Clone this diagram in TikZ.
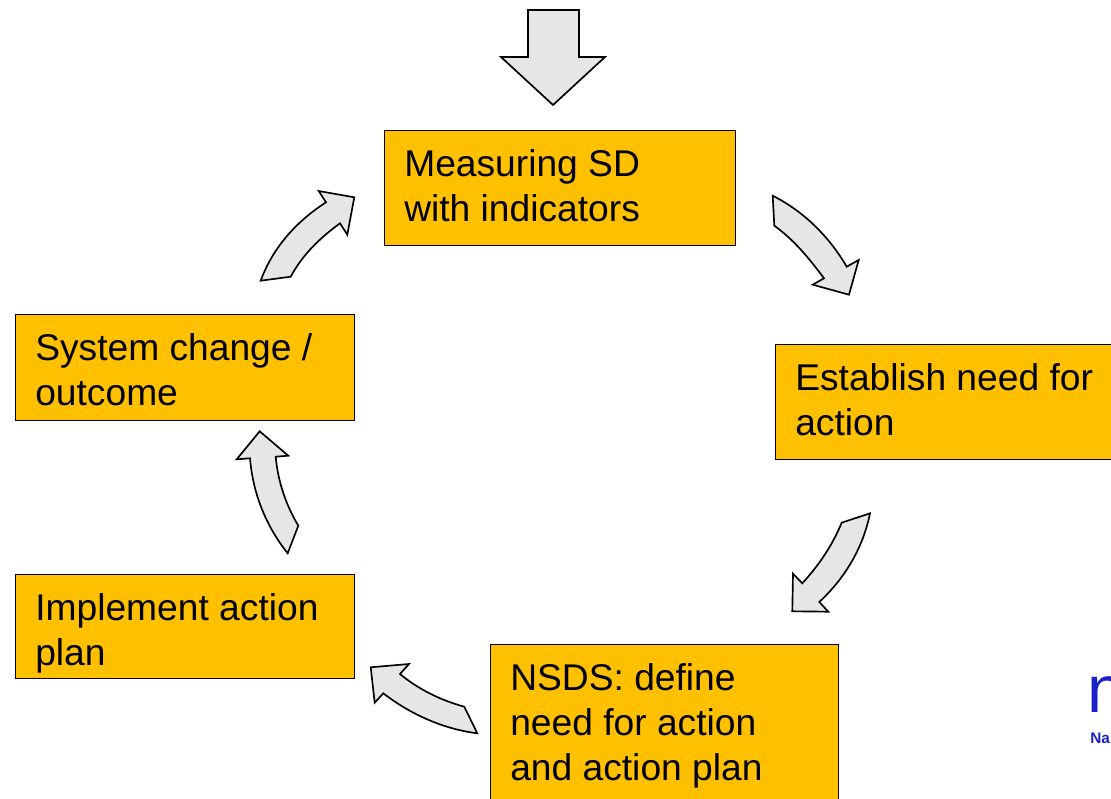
\documentclass[tikz,border=0pt]{standalone}
\usepackage{fontspec}
\setmainfont{Liberation Sans}
\definecolor{boxgold}{HTML}{FFC000}
\definecolor{arrowgrey}{HTML}{E6E6E6}
\definecolor{logoblue}{HTML}{1A1FC8}
\tikzset{
  every picture/.style={x=0.75pt,y=-0.75pt},
  stagebox/.style={draw=black,line width=0.75pt,fill=boxgold},
  stagetext/.style={anchor=north west,inner sep=0pt,align=left,font=\fontsize{27.9}{33.7}\selectfont,text=black},
  blockarrow/.style={draw=black,line width=1.25pt,fill=arrowgrey,line join=miter}
}
\begin{document}
\begin{tikzpicture}
\useasboundingbox (0,0) rectangle (1111,799);
\begin{scope}
\clip (0,0) rectangle (1111,799);
% boxes
\draw[stagebox] (384.5,130.5) rectangle (735,245);
\draw[stagebox] (775,344.5) rectangle (1125,459);
\draw[stagebox] (490,644.5) rectangle (838,815);
\draw[stagebox] (15.5,314.5) rectangle (354,420);
\draw[stagebox] (15.5,574.5) rectangle (354,678);
% texts
\node[stagetext] (measure) at (404,149.5) {Measuring SD\\with indicators};
\node[stagetext] (establish) at (795,363.5) {Establish need for\\action};
\node[stagetext] (nsds) at (510,663) {NSDS: define\\need for action\\and action plan};
\node[stagetext] (system) at (35,333) {System change /\\outcome};
\node[stagetext] (implement) at (35,593) {Implement action\\plan};
% top arrow
\draw[blockarrow] (528,10) -- (579,10) -- (579,57) -- (605,57) -- (553,105) -- (501,57) -- (528,57) -- cycle;
% upper left
\draw[blockarrow] (260.7,280.7) -- (290.7,276.7) .. controls (303,254) and (320,238) .. (340,223.3)
  -- (347.3,234.7) -- (354.3,197.3) -- (318.7,191) -- (326,202.3)
  .. controls (297,221) and (273,247) .. cycle;
% upper right
\draw[blockarrow] (772.7,195.7) .. controls (805,212) and (830,238) .. (846.7,266.7)
  -- (858.7,260) -- (849,294.7) -- (812.7,284.7) -- (824,278.3)
  .. controls (808,257) and (794,240) .. (774.3,225.7) -- cycle;
% lower right
\draw[blockarrow] (870,513.3) -- (841.7,522.7) .. controls (832,546) and (819,565) .. (802.3,583.3)
  -- (793,573.7) -- (792.3,611.3) -- (828.3,611.7) -- (819.3,602)
  .. controls (845,578) and (863,548) .. cycle;
% lower middle
\draw[blockarrow] (477.3,733.3) -- (464.3,706.7) .. controls (440,700) and (418,689) .. (400,674)
  -- (409,664) -- (370.7,667.3) -- (374.7,702.7) -- (383.3,693.3)
  .. controls (410,714) and (443,729) .. cycle;
% left
\draw[blockarrow] (287.7,553.3) -- (298.3,525.7) .. controls (286,505) and (278,482) .. (275.7,456.7)
  -- (288.3,455.7) -- (259.7,431.3) -- (236.7,459.3) -- (250,458.3)
  .. controls (253,494) and (266,526) .. cycle;
% logo fragment
\node[anchor=base west,inner sep=0pt,font=\fontsize{50}{50}\selectfont,text=logoblue] (logo) at (1087,712) {n};
\node[anchor=base west,inner sep=0pt,font=\bfseries\fontsize{11.5}{11.5}\selectfont,text=logoblue] (logosub) at (1090,743) {Na};
\end{scope}
\end{tikzpicture}
\end{document}
